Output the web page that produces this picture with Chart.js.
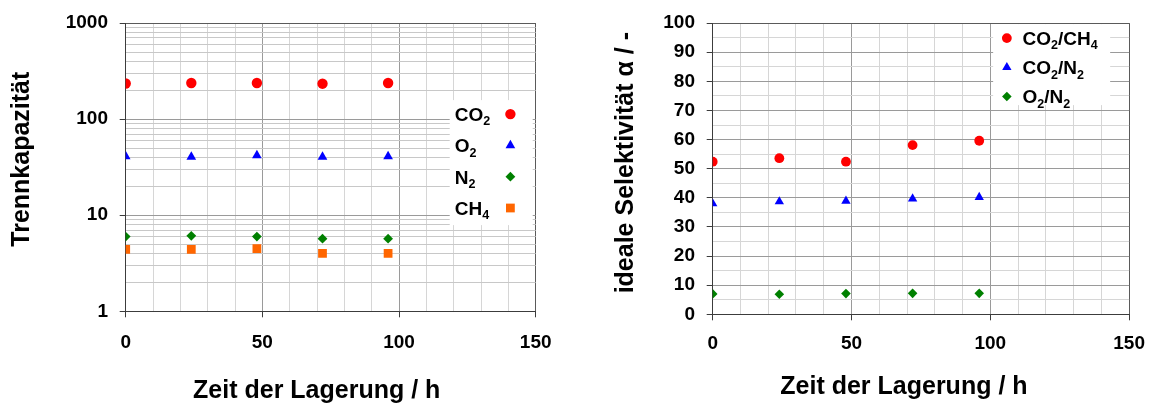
<!DOCTYPE html>
<html>
<head>
<meta charset="utf-8">
<script src="https://cdn.jsdelivr.net/npm/chart.js@4/dist/chart.umd.min.js"></script>
<style>
  html, body { margin: 0; padding: 0; background: #fff; }
  #wrap { position: relative; width: 1157px; height: 405px; }
  #leftChart { position: absolute; left: 0; top: 0; }
  #rightChart { position: absolute; left: 580px; top: 0; }
</style>
</head>
<body>
<div id="wrap">
  <canvas id="leftChart" width="580" height="405"></canvas>
  <canvas id="rightChart" width="577" height="405"></canvas>
</div>
<script>
'use strict'

// storage time in hours
const hours = [0, 24, 48, 72, 96];

// left chart: Trennkapazitaet (log scale)
const co2 = [235, 238, 238, 234, 238];
const o2 = [41, 40.5, 42, 40.5, 41];
const n2 = [6.0, 6.1, 6.0, 5.7, 5.7];
const ch4 = [4.4, 4.4, 4.5, 4.0, 4.0];
const leftLabels = ['CO2', 'O2', 'N2', 'CH4'];

// right chart: ideale Selektivitaet
const selCo2Ch4 = [52.4, 53.6, 52.4, 58.1, 59.6];
const selCo2N2 = [38.0, 38.7, 38.9, 39.7, 40.2];
const selO2N2 = [7.0, 6.9, 7.1, 7.2, 7.2];
const rightLabels = ['CO2/CH4', 'CO2/N2', 'O2/N2'];

// tick labels
const xTickLabels = [0, 50, 100, 150];
const leftYTickLabels = [1, 10, 100, 1000];
const rightYTickLabels = [0, 10, 20, 30, 40, 50, 60, 70, 80, 90, 100];

const FONT = '"Liberation Sans", Arial, sans-serif';
Chart.defaults.font.family = FONT;
Chart.defaults.color = '#000';

const axisColor = '#3c3c3c';
const frameColor = '#5a5a5a';
const majorGrid = '#9a9a9a';
const minorGrid = '#d6d6d6';

function points(ys) {
  return hours.map((h, i) => ({ x: h, y: ys[i] }));
}

// formula text: digits are drawn as subscripts
function drawChem(ctx, text, x, y, size) {
  let cx = x;
  for (const ch of text) {
    if (/[0-9]/.test(ch)) {
      ctx.font = 'bold ' + (size * 0.66) + 'px ' + FONT;
      ctx.fillText(ch, cx, y + size * 0.23);
    } else {
      ctx.font = 'bold ' + size + 'px ' + FONT;
      ctx.fillText(ch, cx, y);
    }
    cx += ctx.measureText(ch).width;
  }
}

const boxLegend = {
  id: 'boxLegend',
  afterDatasetsDraw(chart, args, opts) {
    const ctx = chart.ctx;
    const a = chart.chartArea;
    ctx.save();
    ctx.fillStyle = '#ffffff';
    ctx.fillRect(a.right + opts.box[0], a.top + opts.box[1], opts.box[2], opts.box[3]);
    ctx.textAlign = 'left';
    ctx.textBaseline = 'alphabetic';
    chart.data.datasets.forEach((ds, i) => {
      const y = a.top + opts.firstRow + i * opts.rowGap;
      ctx.fillStyle = ds.backgroundColor;
      Chart.helpers.drawPoint(ctx, { pointStyle: ds.pointStyle, radius: ds.pointRadius, rotation: 0, borderWidth: 0 }, a.right + opts.markerX, y);
      ctx.fillStyle = '#000';
      drawChem(ctx, ds.label, a.right + opts.textX, y + 0.36 * opts.size, opts.size);
    });
    ctx.restore();
  }
};

// nudges the axis titles a little off-centre, like the original
const titleShift = {
  id: 'titleShift',
  afterLayout(chart, args, opts) {
    ['x', 'y'].forEach(id => {
      const s = chart.scales[id];
      if (s._shifted) return;
      const orig = s.drawTitle;
      const d = opts[id];
      s.drawTitle = function () {
        this.ctx.save();
        this.ctx.translate(d[0], d[1]);
        orig.apply(this, arguments);
        this.ctx.restore();
      };
      s._shifted = true;
    });
  }
};

function series(label, data, color, style, radius) {
  return {
    label: label,
    data: points(data),
    pointStyle: style,
    pointRadius: radius,
    pointHoverRadius: radius,
    backgroundColor: color,
    borderColor: color,
    borderWidth: 0,
    showLine: false
  };
}

function xAxis(height, labelPad, titlePad) {
  return {
    type: 'linear',
    min: 0,
    max: 150,
    afterFit: s => { s.height = height; },
    border: { color: axisColor, width: 1 },
    grid: {
      tickLength: 6,
      color: c => c.tick.value === 150 ? frameColor : (c.tick.value % 50 === 0 ? majorGrid : minorGrid),
      tickColor: c => xTickLabels.includes(c.tick.value) ? axisColor : 'rgba(0,0,0,0)'
    },
    ticks: {
      stepSize: 10,
      autoSkip: false,
      maxRotation: 0,
      padding: labelPad,
      font: { size: 19, weight: 'bold' },
      callback: v => xTickLabels.includes(v) ? String(v) : ''
    },
    title: {
      display: true,
      text: 'Zeit der Lagerung / h',
      font: { size: 25, weight: 'bold' },
      padding: { top: 0, bottom: titlePad }
    }
  };
}

// left chart
new Chart(document.getElementById('leftChart'), {
  type: 'scatter',
  data: {
    datasets: [
      series(leftLabels[0], co2, '#ff0000', 'circle', 5.2),
      series(leftLabels[1], o2, '#0000ff', 'triangle', 5.6),
      series(leftLabels[2], n2, '#008000', 'rectRot', 4.9),
      series(leftLabels[3], ch4, '#ff6600', 'rect', 6.2)
    ]
  },
  options: {
    responsive: false,
    animation: false,
    layout: { padding: { top: 20, right: 44.3, bottom: 0, left: 0 } },
    plugins: {
      legend: { display: false },
      tooltip: { enabled: false },
      boxLegend: { box: [-86, 77, 83, 125], firstRow: 91, rowGap: 31.3, markerX: -25.3, textX: -81, size: 19 },
      titleShift: { x: [-14, 1], y: [1, -8] }
    },
    scales: {
      x: xAxis(93.7, 14, 0),
      y: {
        type: 'logarithmic',
        min: 1,
        max: 1000,
        afterFit: s => { s.width = 125.7; },
        afterBuildTicks: s => {
          const t = [];
          for (let d = 1; d < 1000; d *= 10) {
            for (let k = 1; k < 10; k++) t.push({ value: d * k });
          }
          t.push({ value: 1000 });
          s.ticks = t;
        },
        border: { color: axisColor, width: 1 },
        grid: {
          tickLength: 6,
          color: c => c.tick.value === 1000 ? frameColor : (leftYTickLabels.includes(c.tick.value) ? majorGrid : '#c8c8c8'),
          tickColor: c => leftYTickLabels.includes(c.tick.value) ? axisColor : 'rgba(0,0,0,0)'
        },
        ticks: {
          autoSkip: false,
          padding: 11.7,
          font: { size: 19, weight: 'bold' },
          callback: v => leftYTickLabels.includes(v) ? String(v) : ''
        },
        title: {
          display: true,
          text: 'Trennkapazität',
          font: { size: 25, weight: 'bold' },
          padding: { top: 6, bottom: 0 }
        }
      }
    }
  },
  plugins: [boxLegend, titleShift]
});

// right chart
new Chart(document.getElementById('rightChart'), {
  type: 'scatter',
  data: {
    datasets: [
      series(rightLabels[0], selCo2Ch4, '#ff0000', 'circle', 4.9),
      series(rightLabels[1], selCo2N2, '#0000ff', 'triangle', 5.4),
      series(rightLabels[2], selO2N2, '#008000', 'rectRot', 4.8)
    ]
  },
  options: {
    responsive: false,
    animation: false,
    layout: { padding: { top: 18.3, right: 23, bottom: 0, left: 0 } },
    plugins: {
      legend: { display: false },
      tooltip: { enabled: false },
      boxLegend: { box: [-136, 1, 117, 81], firstRow: 15, rowGap: 29.2, markerX: -122.3, textX: -106.7, size: 19 },
      titleShift: { x: [-17, 1], y: [1, -6] }
    },
    scales: {
      x: xAxis(90.7, 12, 4),
      y: {
        type: 'linear',
        min: 0,
        max: 100,
        afterFit: s => { s.width = 132.7; },
        border: { color: axisColor, width: 1 },
        grid: {
          tickLength: 6,
          color: c => c.tick.value === 100 ? frameColor : (c.tick.value % 10 === 0 ? majorGrid : minorGrid),
          tickColor: c => rightYTickLabels.includes(c.tick.value) ? axisColor : 'rgba(0,0,0,0)'
        },
        ticks: {
          stepSize: 5,
          autoSkip: false,
          padding: 11.7,
          font: { size: 19, weight: 'bold' },
          callback: v => rightYTickLabels.includes(v) ? String(v) : ''
        },
        title: {
          display: true,
          text: 'ideale Selektivität α / -',
          font: { size: 25, weight: 'bold' },
          padding: { top: 30, bottom: 0 }
        }
      }
    }
  },
  plugins: [boxLegend, titleShift]
});
</script>
</body>
</html>
